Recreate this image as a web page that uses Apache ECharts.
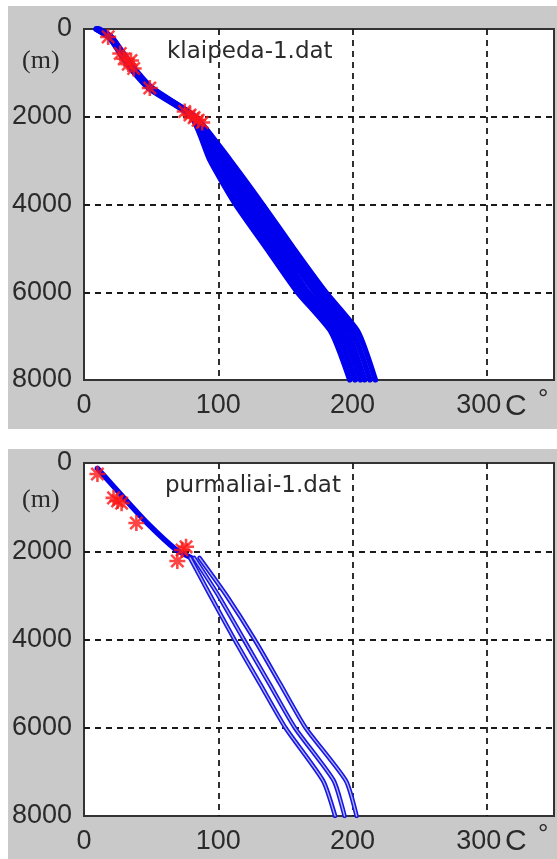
<!DOCTYPE html>
<html><head><meta charset="utf-8">
<script src="https://cdn.jsdelivr.net/npm/echarts@6/dist/echarts.min.js"></script>
<style>html,body{margin:0;padding:0;background:#fff;}#c{width:557px;height:859px;}</style>
</head><body><div id="c"></div>
<script>
// ---- axes ----
const tempMin = 0, tempMax = 350, tempStep = 100;
const depthMin = 0, depthMax = 8000, depthStep = 2000;

// ---- klaipeda-1.dat (temperature °C vs depth m) ----
const kDepth = [0, 200, 800, 1350, 2000, 3000, 4000, 5000, 6000, 6900, 8000];
const kT1 = [9, 19, 32, 48, 80, 94, 113, 136, 159, 184, 198];
const kT2 = [9, 19, 33, 49, 81, 97, 117, 140, 163, 188, 202];
const kT3 = [10, 20, 33, 49, 81, 100, 121, 144, 167, 192, 206];
const kT4 = [10, 20, 34, 50, 82, 103, 125, 148, 172, 196, 209];
const kT5 = [11, 21, 34, 50, 82, 106, 129, 152, 176, 200, 213];
const kT6 = [11, 21, 35, 51, 83, 109, 133, 156, 180, 204, 217];
const kStarT = [18, 27, 30, 33, 35, 37, 49, 75, 79, 82, 85, 88];
const kStarD = [180, 560, 680, 800, 720, 900, 1345, 1880, 1960, 2020, 2080, 2130];

// ---- purmaliai-1.dat ----
const pUpperDepth = [120, 800, 1360, 1950, 2150];
const pUpperT = [10, 30, 47, 68, 80];
const pDepth = [2150, 3000, 4000, 5000, 6000, 7200, 8000];
const pTA = [79, 94, 112, 131, 150, 178, 187];
const pTB = [82, 100, 119, 138, 157, 186, 194];
const pTC = [86, 106, 127, 146, 165, 195, 203];
const pStarT = [10, 22, 25, 28, 39, 73, 76, 69.5];
const pStarD = [250, 790, 860, 910, 1360, 1970, 1900, 2220];

const zip = (xs, ys) => xs.map((x, i) => [x, ys[i]]);
const STAR = 'path://M4.2 0L5.8 0L5.8 10L4.2 10ZM0 4.2L10 4.2L10 5.8L0 5.8ZM0.6 1.7L1.7 0.6L9.4 8.3L8.3 9.4ZM8.3 0.6L9.4 1.7L1.7 9.4L0.6 8.3Z';
const BLUE = '#0000ee';
const LABEL_FONT = {fontSize: 27, fontFamily: 'Liberation Sans, Arial, sans-serif', color: '#2a2a2a'};

function xAx(gi) {
  return {
    type: 'value', gridIndex: gi, min: tempMin, max: tempMax, interval: tempStep,
    axisLine: {show: false}, axisTick: {show: false},
    axisLabel: Object.assign({margin: 12,
      formatter: v => (v % tempStep !== 0 ? '' : (v === 300 ? '{s|300}' : String(v))),
      rich: {s: {fontSize: 27, fontFamily: 'Liberation Sans, Arial, sans-serif', color: '#2a2a2a', padding: [0, 16, 0, 0]}}
    }, LABEL_FONT),
    splitLine: {show: true, showMinLine: false, showMaxLine: false,
      lineStyle: {color: '#1a1a1a', width: 1.8, type: [6, 5]}}
  };
}
function yAx(gi) {
  return {
    type: 'value', gridIndex: gi, inverse: true, min: depthMin, max: depthMax, interval: depthStep,
    axisLine: {show: false}, axisTick: {show: false},
    axisLabel: Object.assign({margin: 12, formatter: v => String(v)}, LABEL_FONT),
    splitLine: {show: true, showMinLine: false, showMaxLine: false,
      lineStyle: {color: '#1a1a1a', width: 1.8, type: [6, 5]}}
  };
}
function line(gi, xs, ys, color, width, z) {
  return {type: 'line', xAxisIndex: gi, yAxisIndex: gi, data: zip(xs, ys), showSymbol: false,
    smooth: 0.2, silent: true, z: z || 2, lineStyle: {color: color, width: width, join: 'round', cap: 'round'}};
}
function stars(gi, xs, ys) {
  return {type: 'scatter', xAxisIndex: gi, yAxisIndex: gi, data: zip(xs, ys), symbol: STAR,
    symbolSize: 16, silent: true, z: 5, itemStyle: {color: '#ff1515'}};
}

const series = [];
[kT1, kT2, kT3, kT4, kT5, kT6].forEach(t => series.push(line(0, t, kDepth, BLUE, 5.5)));
series.push(stars(0, kStarT, kStarD));

series.push(line(1, pUpperT, pUpperDepth, BLUE, 5.5));
[pTA, pTB, pTC].forEach(t => {
  series.push(line(1, t, pDepth, '#1818e0', 4.5, 2));
  series.push(line(1, t, pDepth, '#b4b4ff', 1.3, 3));
});
series.push(stars(1, pStarT, pStarD));

const txt = (x, y, s, font, va) => ({type: 'text', x: x, y: y, z: 10,
  style: {text: s, font: font, fill: '#2a2a2a', textVerticalAlign: va || 'middle'}});

const chart = echarts.init(document.getElementById('c'), null, {renderer: 'canvas'});
chart.setOption({
  animation: false,
  backgroundColor: '#ffffff',
  grid: [
    {left: 84, top: 29, width: 470, height: 351, show: true, backgroundColor: '#ffffff', borderColor: '#333', borderWidth: 2},
    {left: 84, top: 463, width: 470, height: 353, show: true, backgroundColor: '#ffffff', borderColor: '#333', borderWidth: 2}
  ],
  xAxis: [xAx(0), xAx(1)],
  yAxis: [yAx(0), yAx(1)],
  graphic: [
    {type: 'rect', z: -100, shape: {x: 8, y: 6, width: 549, height: 423}, style: {fill: '#c9c9c9'}},
    {type: 'rect', z: -100, shape: {x: 8, y: 449, width: 549, height: 410}, style: {fill: '#c9c9c9'}},
    txt(22, 61, '(m)', '26px "Liberation Serif", serif'),
    txt(22, 500, '(m)', '26px "Liberation Serif", serif'),
    txt(167, 52, 'klaipeda-1.dat', '23px "DejaVu Sans", sans-serif'),
    txt(165, 486, 'purmaliai-1.dat', '23px "DejaVu Sans", sans-serif'),
    txt(505, 407, 'C', '30px "Liberation Sans", sans-serif'),
    txt(538, 400, '°', '26px "Liberation Sans", sans-serif'),
    txt(505, 842, 'C', '30px "Liberation Sans", sans-serif'),
    txt(538, 835, '°', '26px "Liberation Sans", sans-serif')
  ],
  series: series
});
</script>
</body></html>
